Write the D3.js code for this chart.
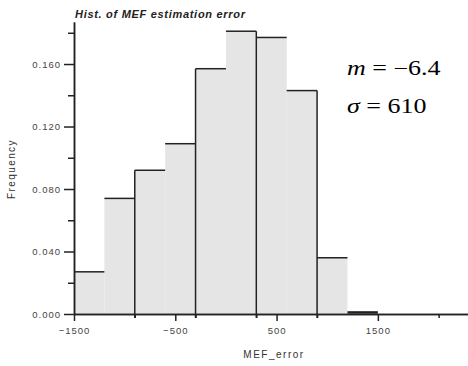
<!DOCTYPE html>
<html>
<head>
<meta charset="utf-8">
<style>
	body { margin: 0; background: #fff; }
	text { font-family: "Liberation Sans", Arial, sans-serif; }
</style>
</head>
<body>
<svg width="468" height="366"></svg>
<script src="https://d3js.org/d3.v7.min.js"></script>
<script>
	// histogram bins (MEF error), relative frequency per bin
	const binEdges = [-1500, -1200, -900, -600, -300, 0, 300, 600, 900, 1200, 1500];
	const freq = [0.027, 0.074, 0.092, 0.109, 0.157, 0.181, 0.177, 0.143, 0.036, 0.001];
	const xLabelTicks = [-1500, -500, 500, 1500];
	const xMinorTicks = [-900, -300, 300, 900, 2100];
	const yLabelTicks = [0, 0.04, 0.08, 0.12, 0.16];
	const yMinorTicks = [0.02, 0.06, 0.10, 0.14, 0.18];
	const statMean = "−6.4";
	const statSd = "610";

	const svg = d3.select("svg");
	const margin = { top: 22, right: 0, bottom: 52, left: 74 };
	const W = +svg.attr("width");
	const H = +svg.attr("height");

	const x = d3.scaleLinear().domain([-1500, 2390]).range([margin.left, W - margin.right]);
	const y = d3.scaleLinear().domain([0, 0.1869]).range([H - margin.bottom, margin.top]);

	const bins = freq.map((f, i) => ({ x0: binEdges[i], x1: binEdges[i + 1], f: f }));

	// bar fills
	svg.append("g")
		.selectAll("rect")
		.data(bins)
		.join("rect")
		.attr("x", (d) => x(d.x0))
		.attr("y", (d) => y(d.f))
		.attr("width", (d) => x(d.x1) - x(d.x0))
		.attr("height", (d) => y(0) - y(d.f))
		.attr("fill", "#e5e5e5");

	const lines = svg.append("g").attr("stroke", "#222").attr("stroke-width", 1.5);

	// bar tops
	lines.selectAll("line.top")
		.data(bins)
		.join("line")
		.attr("class", "top")
		.attr("x1", (d) => x(d.x0))
		.attr("x2", (d) => x(d.x1))
		.attr("y1", (d) => y(d.f))
		.attr("y2", (d) => y(d.f))
		.attr("stroke-width", (d, i) => (i === bins.length - 1 ? 2.5 : 1.5));

	// separators on every other bin edge
	const seps = d3.range(2, binEdges.length - 1, 2);
	lines.selectAll("line.sep")
		.data(seps)
		.join("line")
		.attr("class", "sep")
		.attr("x1", (i) => x(binEdges[i]))
		.attr("x2", (i) => x(binEdges[i]))
		.attr("y1", y(0) + 4)
		.attr("y2", (i) => y(Math.max(freq[i - 1], freq[i])));

	// axes
	const styleAxis = (g) => {
		g.selectAll("path").attr("stroke", "#222").attr("stroke-width", 1.5);
		g.selectAll("line").attr("stroke", "#222").attr("stroke-width", 1.5);
		g.selectAll("text").attr("fill", "#444").style("font-size", "9.5px").style("letter-spacing", "1px");
	};

	svg.append("g")
		.attr("transform", "translate(0," + y(0) + ")")
		.call(d3.axisBottom(x).tickValues(xMinorTicks).tickSize(4).tickSizeOuter(0).tickFormat(""))
		.call(styleAxis);
	svg.append("g")
		.attr("transform", "translate(0," + y(0) + ")")
		.call(d3.axisBottom(x).tickValues(xLabelTicks).tickSize(7).tickSizeOuter(0).tickPadding(6).tickFormat(d3.format("d")))
		.call(styleAxis);

	svg.append("g")
		.attr("transform", "translate(" + margin.left + ",0)")
		.call(d3.axisLeft(y).tickValues(yMinorTicks).tickSize(6).tickSizeOuter(0).tickFormat(""))
		.call(styleAxis);
	svg.append("g")
		.attr("transform", "translate(" + margin.left + ",0)")
		.call(d3.axisLeft(y).tickValues(yLabelTicks).tickSize(10).tickSizeOuter(0).tickPadding(3).tickFormat(d3.format(".3f")))
		.call(styleAxis);

	// titles
	svg.append("text")
		.attr("x", 75)
		.attr("y", 18)
		.style("font-size", "11px")
		.style("font-weight", "bold")
		.style("font-style", "italic")
		.style("letter-spacing", "0.7px")
		.attr("fill", "#222")
		.text("Hist. of MEF estimation error");

	svg.append("text")
		.attr("transform", "translate(15,169) rotate(-90)")
		.attr("text-anchor", "middle")
		.style("font-size", "10px")
		.style("letter-spacing", "1.4px")
		.attr("fill", "#333")
		.text("Frequency");

	svg.append("text")
		.attr("x", 274)
		.attr("y", 358)
		.attr("text-anchor", "middle")
		.style("font-size", "10px")
		.style("letter-spacing", "1.5px")
		.attr("fill", "#333")
		.text("MEF_error");

	// stats annotation (stretched wide like the equation image)
	const ann = svg.append("g")
		.attr("transform", "translate(347,0) scale(1.3,1)")
		.style("font-size", "20px")
		.attr("fill", "#000");
	const t1 = ann.append("text").attr("x", 0).attr("y", 75).style("font-family", "'Liberation Serif', serif");
	t1.append("tspan").style("font-style", "italic").text("m");
	t1.append("tspan").text(" = " + statMean);
	const t2 = ann.append("text").attr("x", 0).attr("y", 113).style("font-family", "'Liberation Serif', serif");
	t2.append("tspan").style("font-style", "italic").text("σ");
	t2.append("tspan").text(" = " + statSd);
</script>
</body>
</html>
